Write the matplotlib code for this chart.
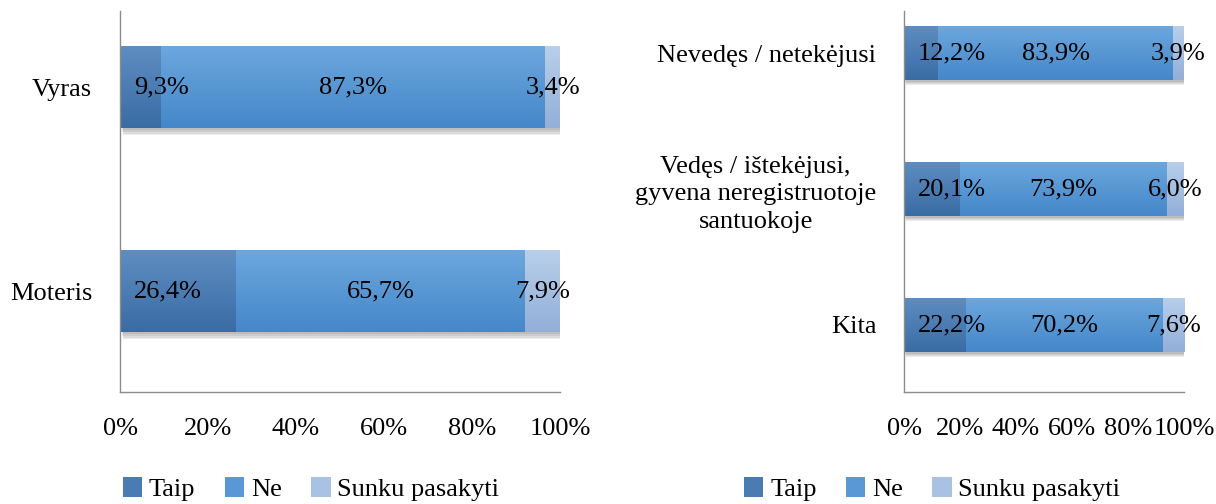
import matplotlib.pyplot as plt
import numpy as np
from matplotlib.colors import LinearSegmentedColormap

plt.rcParams['font.family'] = ['Liberation Serif', 'DejaVu Serif']

series = ['Taip', 'Ne', 'Sunku pasakyti']
colors = ['#4a7bb2', '#5a98d5', '#a9c2e4']
tops = ['#5e8dc1', '#6ca7de', '#b8cfeb']
bottoms = ['#3a6ca4', '#4587c9', '#93afd8']

# left panel: gender
cats_left = ['Moteris', 'Vyras']
taip_left = [26.4, 9.3]
ne_left = [65.7, 87.3]
sunku_left = [7.9, 3.4]

# right panel: marital status
cats_right = ['Kita', 'Vedęs / ištekėjusi,\ngyvena neregistruotoje\nsantuokoje', 'Nevedęs / netekėjusi']
taip_right = [22.2, 20.1, 12.2]
ne_right = [70.2, 73.9, 83.9]
sunku_right = [7.6, 6.0, 3.9]

ticks = [0, 20, 40, 60, 80, 100]
fs = 19

fig = plt.figure(figsize=(12.16, 5.04), dpi=100)
ax1 = fig.add_axes([120/1216, 112/504, 440/1216, 381/504])
ax2 = fig.add_axes([904/1216, 112/504, 280/1216, 381/504])

grad = np.linspace(0, 1, 64).reshape(-1, 1)


def draw(ax, cats, vals, ylim, legx):
    y = np.arange(len(cats))
    left = np.zeros(len(cats))
    h = 0.40
    # soft shadow under the bars
    tot = np.sum(vals, axis=0)
    for k in range(4):
        ax.barh(y - 0.012 - k * 0.008, tot, height=h, left=0.4 + k * 0.1,
                color='#000000', alpha=0.07, zorder=1, linewidth=0)
    for i, v in enumerate(vals):
        v = np.array(v)
        bars = ax.barh(y, v, height=h, left=left, color=colors[i], label=series[i],
                       zorder=2, linewidth=0)
        cm = LinearSegmentedColormap.from_list('g%d' % i, [tops[i], bottoms[i]])
        for b in bars:
            x0, y0 = b.get_x(), b.get_y()
            im = ax.imshow(grad, cmap=cm, aspect='auto', zorder=2.5,
                           extent=(x0, x0 + b.get_width(), y0, y0 + b.get_height()),
                           origin='upper', interpolation='bilinear')
            im.set_clip_path(b)
        for j in range(len(cats)):
            txt = ('%.1f%%' % v[j]).replace('.', ',')
            if i == 0:
                ax.annotate(txt, (0, y[j]), xytext=(14, 0), textcoords='offset pixels',
                            ha='left', va='center', fontsize=fs, zorder=3)
            else:
                ax.text(left[j] + v[j] / 2, y[j], txt, ha='center', va='center',
                        fontsize=fs, zorder=3)
        left = left + v
    ax.set_xlim(0, 100)
    ax.set_ylim(*ylim)
    ax.set_yticks(y)
    ax.set_yticklabels(cats, fontsize=fs, multialignment='center', linespacing=1.35)
    ax.set_xticks(ticks)
    ax.set_xticklabels(['%d%%' % t for t in ticks], fontsize=fs)
    ax.tick_params(axis='both', length=0)
    ax.tick_params(axis='x', pad=19)
    ax.tick_params(axis='y', pad=20)
    for s in ['top', 'right']:
        ax.spines[s].set_visible(False)
    for s in ['left', 'bottom']:
        ax.spines[s].set_color('#8c8c8c')
        ax.spines[s].set_linewidth(1.0)
    ax.legend(loc='center', bbox_to_anchor=(legx, -0.255), ncol=3, frameon=False,
              fontsize=fs, handlelength=0.75, handleheight=0.75, handletextpad=0.25,
              columnspacing=1.1)


draw(ax1, cats_left, [taip_left, ne_left, sunku_left], (-0.495, 1.373), 0.434)
draw(ax2, cats_right, [taip_right, ne_right, sunku_right], (-0.493, 2.309), 0.1)

fig.savefig('out.png', dpi=100, facecolor='white')
